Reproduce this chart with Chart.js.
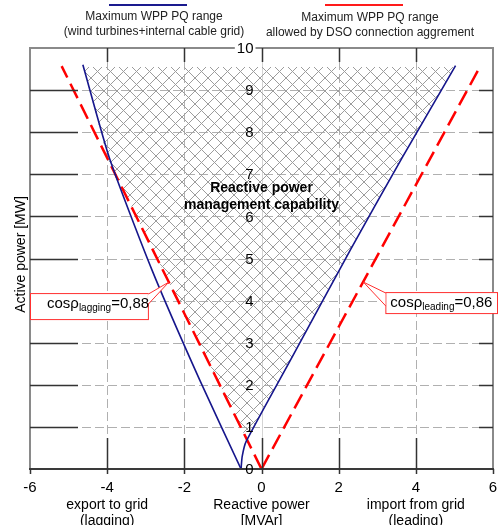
<!DOCTYPE html>
<html>
<head>
<meta charset="utf-8">
<script src="https://cdn.jsdelivr.net/npm/chart.js@4.4.1/dist/chart.umd.min.js"></script>
<style>
  html, body { margin: 0; padding: 0; background: #fff; overflow: hidden; }
  canvas { display: block; }
</style>
</head>
<body>
<canvas id="pqChart" width="498" height="525"></canvas>
<script>
// Q = reactive power [MVAr], P = active power [MW]
const wppLeftQ = [-0.53, -1.6, -2.84, -3.94, -4.63];
const wppLeftP = [0, 2.11, 4.73, 7.38, 9.6];
const wppRightQ = [-0.53, -0.5, -0.4, 0.8, 2.3, 3.65, 5.03];
const wppRightP = [0, 0.3, 0.65, 2.67, 5.2, 7.4, 9.58];
const dsoLaggingQ = [0, -5.18];
const dsoLaggingP = [0, 9.57];
const dsoLeadingQ = [0, 5.69];
const dsoLeadingP = [0, 9.6];
// overlap of the two ranges (hatched area)
const capabilityQ = [-4.615, 5.01, 3.65, 2.3, 0.8, -0.375, -3.99];
const capabilityP = [9.55, 9.55, 7.4, 5.2, 2.67, 0.69, 7.38];

const xTicks = [-6, -4, -2, 0, 2, 4, 6];
const yTicks = [0, 1, 2, 3, 4, 5, 6, 7, 8, 9, 10];
const xTitles = [['export to grid', '(lagging)'], ['Reactive power', '[MVAr]'], ['import from grid', '(leading)']];
const legendBlue = ['Maximum WPP PQ range', '(wind turbines+internal cable grid)'];
const legendRed = ['Maximum WPP PQ range', 'allowed by DSO connection aggrement'];
const areaLabel = ['Reactive power', 'management capability'];
const cosLagging = '0,88';
const cosLeading = '0,86';

const FONT = "'Liberation Sans', Arial, sans-serif";

function toPoints(qs, ps) { return qs.map((q, i) => ({ x: q, y: ps[i] })); }

function makeHatch() {
  const n = 13;
  const c = document.createElement('canvas');
  c.width = n; c.height = n;
  const g = c.getContext('2d');
  g.fillStyle = '#9c9c9c';
  for (let i = 0; i < n; i++) {
    g.fillRect(i, i, 1, 1);
    g.fillRect((n - 1 - i), i, 1, 1);
  }
  return c;
}

function seg(ctx, x1, y1, x2, y2) {
  ctx.beginPath(); ctx.moveTo(x1, y1); ctx.lineTo(x2, y2); ctx.stroke();
}

function callout(ctx, tip, box, base, text, sub, value) {
  ctx.save();
  ctx.fillStyle = '#fff';
  ctx.strokeStyle = '#ff3030';
  ctx.lineWidth = 1;
  ctx.fillRect(box.l, box.t, box.r - box.l, box.b - box.t);
  ctx.strokeRect(box.l + 0.5, box.t + 0.5, box.r - box.l, box.b - box.t);
  // pointer
  ctx.beginPath();
  ctx.moveTo(base.x, base.y1);
  ctx.lineTo(tip.x, tip.y);
  ctx.lineTo(base.x, base.y2);
  ctx.closePath();
  ctx.fill();
  seg(ctx, base.x + 0.5, base.y1, tip.x, tip.y);
  seg(ctx, base.x + 0.5, base.y2, tip.x, tip.y);
  ctx.fillStyle = '#000';
  ctx.textAlign = 'left';
  ctx.textBaseline = 'alphabetic';
  let tx = box.tx;
  ctx.font = '15px ' + FONT;
  ctx.fillText(text, tx, box.base);
  tx += ctx.measureText(text).width;
  ctx.font = '10px ' + FONT;
  ctx.fillText(sub, tx, box.base + 3);
  tx += ctx.measureText(sub).width;
  ctx.font = '15px ' + FONT;
  ctx.fillText('=' + value, tx, box.base);
  ctx.restore();
}

const pqPlugin = {
  id: 'pqPlugin',
  beforeDraw(chart) {
    const { ctx, width, height } = chart;
    ctx.save();
    ctx.fillStyle = '#fff';
    ctx.fillRect(0, 0, width, height);
    ctx.restore();
  },
  beforeDatasetsDraw(chart) {
    const { ctx, chartArea: a, scales: { x, y } } = chart;
    ctx.save();
    // dashed grid
    ctx.strokeStyle = '#b0b0b0';
    ctx.lineWidth = 1;
    ctx.setLineDash([9, 4]);
    yTicks.slice(1, -1).forEach(v => {
      const py = Math.round(y.getPixelForValue(v)) + 0.5;
      seg(ctx, a.left, py, a.right, py);
    });
    xTicks.slice(1, -1).forEach(v => {
      if (v === 0) return;
      const px = Math.round(x.getPixelForValue(v)) + 0.5;
      seg(ctx, px, a.top, px, a.bottom);
    });
    ctx.setLineDash([]);
    ctx.strokeStyle = '#d4d4d4';
    const x0 = Math.round(x.getPixelForValue(0)) + 0.5;
    seg(ctx, x0, a.top, x0, a.bottom);

    // hatched capability area
    ctx.beginPath();
    capabilityQ.forEach((q, i) => {
      const px = x.getPixelForValue(q), py = y.getPixelForValue(capabilityP[i]);
      if (i === 0) ctx.moveTo(px, py); else ctx.lineTo(px, py);
    });
    ctx.closePath();
    ctx.fillStyle = ctx.createPattern(makeHatch(), 'repeat');
    ctx.fill();
    ctx.restore();
  },
  afterDatasetsDraw(chart) {
    const { ctx, chartArea: a, scales: { x, y } } = chart;
    const x0 = x.getPixelForValue(0);
    ctx.save();

    // frame
    ctx.lineWidth = 2;
    ctx.strokeStyle = '#8a8a8a';
    ctx.strokeRect(a.left, a.top, a.right - a.left, a.bottom - a.top);
    ctx.strokeStyle = '#3a3a3a';
    seg(ctx, a.left - 1, a.bottom, a.right + 1, a.bottom);

    // tick marks
    ctx.lineWidth = 1.5;
    ctx.strokeStyle = '#333';
    yTicks.slice(1, -1).forEach(v => {
      const py = Math.round(y.getPixelForValue(v)) + 0.5;
      seg(ctx, a.left, py, a.left + 48, py);
      seg(ctx, a.right - 14, py, a.right, py);
    });
    xTicks.forEach(v => {
      const px = Math.round(x.getPixelForValue(v)) + 0.5;
      seg(ctx, px, a.bottom, px, a.bottom + 5);
      if (v === -6 || v === 6) return;
      seg(ctx, px, a.bottom - 31, px, a.bottom);
      seg(ctx, px, a.top, px, a.top + 14);
    });

    // y tick labels along Q = 0
    ctx.fillStyle = '#000';
    ctx.font = '15px ' + FONT;
    ctx.textAlign = 'right';
    ctx.textBaseline = 'middle';
    yTicks.forEach(v => {
      const py = y.getPixelForValue(v);
      const label = String(v);
      if (v === 10) {
        const w = ctx.measureText(label).width;
        ctx.fillStyle = '#fff';
        ctx.fillRect(x0 - 10 - w, py - 6, w + 4, 12);
        ctx.fillStyle = '#000';
      }
      ctx.fillText(label, x0 - 8, py + 1);
    });

    // x tick labels
    ctx.textAlign = 'center';
    xTicks.forEach(v => {
      ctx.fillText(String(v), x.getPixelForValue(v), a.bottom + 19);
    });

    // x titles
    ctx.font = '14px ' + FONT;
    [-4, 0, 4].forEach((v, i) => {
      const px = x.getPixelForValue(v);
      ctx.fillText(xTitles[i][0], px, a.bottom + 36);
      ctx.fillText(xTitles[i][1], px, a.bottom + 52);
    });

    // y title
    ctx.save();
    ctx.translate(21, (a.top + a.bottom) / 2 - 4);
    ctx.rotate(-Math.PI / 2);
    ctx.fillText('Active power [MW]', 0, 0);
    ctx.restore();

    // area label
    ctx.font = 'bold 14px ' + FONT;
    ctx.fillText(areaLabel[0], x0, y.getPixelForValue(6.66));
    ctx.fillText(areaLabel[1], x0, y.getPixelForValue(6.27));

    // legend
    ctx.font = '12px ' + FONT;
    ctx.fillStyle = '#222';
    ctx.fillText(legendBlue[0], 154, 17);
    ctx.fillText(legendBlue[1], 154, 32);
    ctx.fillText(legendRed[0], 370, 18);
    ctx.fillText(legendRed[1], 370, 33);
    ctx.lineWidth = 2;
    ctx.strokeStyle = '#1a1a8e';
    seg(ctx, 109, 5, 187, 5);
    ctx.strokeStyle = '#ff1a1a';
    seg(ctx, 325, 5, 403, 5);

    // callouts pointing at the DSO limits
    const lt = { x: x.getPixelForValue(-2.40), y: y.getPixelForValue(4.44) };
    callout(ctx, lt,
      { l: a.left, r: lt.x - 21, t: lt.y + 11, b: lt.y + 37, tx: a.left + 17, base: lt.y + 26 },
      { x: lt.x - 21, y1: lt.y + 12, y2: lt.y + 22 },
      'cos\u03c1', 'lagging', cosLagging);
    const rt = { x: x.getPixelForValue(2.64), y: y.getPixelForValue(4.44) };
    callout(ctx, rt,
      { l: rt.x + 22, r: a.right + 4, t: rt.y + 10, b: rt.y + 31, tx: rt.x + 27, base: rt.y + 25 },
      { x: rt.x + 22, y1: rt.y + 11, y2: rt.y + 24 },
      'cos\u03c1', 'leading', cosLeading);

    ctx.restore();
  }
};

const blue = '#16168c';
const red = '#ff0000';

new Chart(document.getElementById('pqChart').getContext('2d'), {
  type: 'scatter',
  data: {
    datasets: [
      { label: 'WPP left', data: toPoints(wppLeftQ, wppLeftP), showLine: true, borderColor: blue, borderWidth: 1.6, pointRadius: 0, tension: 0.2 },
      { label: 'WPP right', data: toPoints(wppRightQ, wppRightP), showLine: true, borderColor: blue, borderWidth: 1.6, pointRadius: 0, tension: 0.2 },
      { label: 'DSO lagging', data: toPoints(dsoLaggingQ, dsoLaggingP), showLine: true, borderColor: red, borderWidth: 2.5, borderDash: [16, 7], pointRadius: 0 },
      { label: 'DSO leading', data: toPoints(dsoLeadingQ, dsoLeadingP), showLine: true, borderColor: red, borderWidth: 2.5, borderDash: [16, 7], pointRadius: 0 }
    ]
  },
  options: {
    responsive: false,
    animation: false,
    devicePixelRatio: 1,
    layout: { padding: { left: 30, right: 5, top: 48, bottom: 56 } },
    scales: {
      x: { type: 'linear', min: -6, max: 6, display: false },
      y: { type: 'linear', min: 0, max: 10, display: false }
    },
    plugins: { legend: { display: false }, tooltip: { enabled: false } }
  },
  plugins: [pqPlugin]
});
</script>
</body>
</html>
